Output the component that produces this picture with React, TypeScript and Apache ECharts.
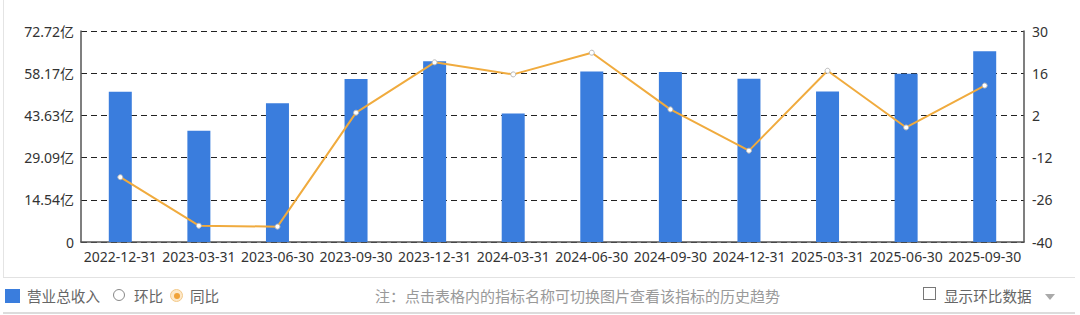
import React, { useEffect, useRef } from "react";
import * as echarts from "echarts";

const categories = [
  "2022-12-31", "2023-03-31", "2023-06-30", "2023-09-30", "2023-12-31", "2024-03-31",
  "2024-06-30", "2024-09-30", "2024-12-31", "2025-03-31", "2025-06-30", "2025-09-30",
];
const revenue = [51.8, 38.3, 47.8, 56.2, 62.3, 44.3, 58.8, 58.6, 56.3, 51.9, 58.0, 65.7];
const yoy = [-18.5, -34.6, -34.9, 2.9, 19.6, 15.6, 22.8, 4.0, -9.7, 16.8, -2.0, 11.9];
const leftTickLabels = ["0", "14.54亿", "29.09亿", "43.63亿", "58.17亿", "72.72亿"];
const leftMax = 72.72;
const leftInterval = 14.544;
const rightMin = -40;
const rightMax = 30;
const rightInterval = 14;

const FONT = "'Noto Sans', 'Noto Sans CJK SC', sans-serif";
const CJK = "'Noto Sans CJK SC', 'Noto Sans', sans-serif";

export default function App() {
  const ref = useRef<HTMLDivElement>(null);
  useEffect(() => {
    if (!ref.current) return;
    const chart = echarts.init(ref.current, undefined, { renderer: "svg" });
    chart.setOption({
      animation: false,
      grid: { left: 81, right: 56, top: 31, bottom: 73 },
      xAxis: {
        type: "category",
        data: categories,
        axisLine: { lineStyle: { color: "#555", width: 1.5 } },
        axisTick: { show: false },
        axisLabel: { color: "#333", fontSize: 14, fontFamily: FONT, margin: 7, interval: 0 },
      },
      yAxis: [
        {
          type: "value",
          min: 0,
          max: leftMax,
          interval: leftInterval,
          axisLine: { show: true, lineStyle: { color: "#555", width: 1.5 } },
          axisTick: { show: false },
          axisLabel: {
            color: "#333",
            fontSize: 14,
            fontFamily: FONT,
            margin: 7,
            formatter: (v: number) => leftTickLabels[Math.round(v / leftInterval)] ?? "",
          },
          splitLine: { show: true, lineStyle: { color: "#222", type: [6, 4], width: 1.2 } },
        },
        {
          type: "value",
          min: rightMin,
          max: rightMax,
          interval: rightInterval,
          position: "right",
          axisLine: { show: true, lineStyle: { color: "#555", width: 1.5 } },
          axisTick: { show: false },
          axisLabel: { color: "#333", fontSize: 14, fontFamily: FONT, margin: 8 },
          splitLine: { show: false },
        },
      ],
      series: [
        {
          type: "bar",
          data: revenue,
          barWidth: 23,
          itemStyle: { color: "#3a7ddd" },
        },
        {
          type: "line",
          yAxisIndex: 1,
          data: yoy,
          symbol: "circle",
          symbolSize: 5,
          lineStyle: { color: "#f0ab3e", width: 2 },
          itemStyle: { color: "#ffffff", borderColor: "#b8b8b8", borderWidth: 1 },
        },
      ],
    });
    return () => chart.dispose();
  }, []);

  const legendText: React.CSSProperties = {
    position: "absolute",
    top: 286,
    fontFamily: CJK,
    fontSize: 14.6,
    color: "#666",
    lineHeight: "20px",
    whiteSpace: "nowrap",
  };

  return (
    <div style={{ position: "absolute", left: 0, top: 0, width: 1080, height: 315, background: "#fff", overflow: "hidden" }}>
      <div style={{ position: "absolute", left: 3, top: 0, width: 1, height: 278, background: "#e4e4e4" }} />
      <div ref={ref} style={{ position: "absolute", left: 0, top: 0, width: 1080, height: 315 }} />
      <div style={{ position: "absolute", left: 3, top: 277, width: 1072, height: 1, background: "#e2e2e2" }} />
      <div style={{ position: "absolute", left: 3, top: 312, width: 1072, height: 2, background: "#dcdcdc" }} />
      <div style={{ position: "absolute", left: 5, top: 289, width: 15, height: 14, background: "#3a7ddd" }} />
      <div style={{ ...legendText, left: 27 }}>营业总收入</div>
      <div style={{ position: "absolute", left: 113, top: 289, width: 12, height: 12, borderRadius: "50%", border: "1px solid #888", boxSizing: "border-box" }} />
      <div style={{ ...legendText, left: 134 }}>环比</div>
      <div style={{ position: "absolute", left: 170, top: 289, width: 13, height: 13, borderRadius: "50%", border: "1px solid #f3c98a", boxSizing: "border-box", background: "#fde8c8" }} />
      <div style={{ position: "absolute", left: 173.5, top: 292.5, width: 6, height: 6, borderRadius: "50%", background: "#f0a238" }} />
      <div style={{ ...legendText, left: 190 }}>同比</div>
      <div style={{ ...legendText, left: 375, color: "#999", fontSize: 15 }}>注：点击表格内的指标名称可切换图片查看该指标的历史趋势</div>
      <div style={{ position: "absolute", left: 923, top: 287, width: 13, height: 13, border: "1px solid #777", boxSizing: "border-box" }} />
      <div style={{ ...legendText, left: 944 }}>显示环比数据</div>
      <div style={{ position: "absolute", left: 1045, top: 294, width: 0, height: 0, borderLeft: "5px solid transparent", borderRight: "5px solid transparent", borderTop: "6px solid #aaa" }} />
    </div>
  );
}
